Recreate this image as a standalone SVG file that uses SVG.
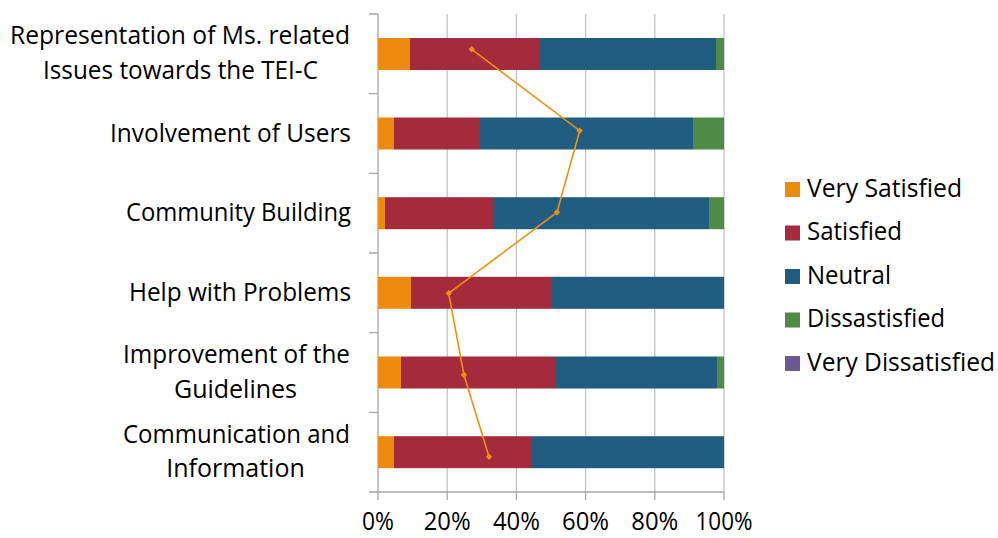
<svg xmlns="http://www.w3.org/2000/svg" width="998" height="538" viewBox="0 0 998 538">
<style>
text{font-family:"Open Sans","Liberation Sans",sans-serif;font-size:25px;fill:#000}
.lab{text-anchor:end}
.mid{text-anchor:middle}
.grid{stroke:#C3C3C3;stroke-width:1.3;fill:none}
.axis{stroke:#A6A6A6;stroke-width:1.3;fill:none}
.vs{fill:#EF8A11}
.s{fill:#A32B3B}
.n{fill:#215D81}
.d{fill:#4F8B48}
.vd{fill:#6C5894}
.trend{stroke:#F0900E;stroke-width:1.6;fill:none}
.mk{fill:#F0900E}
</style>
<defs>
<marker id="dia" viewBox="-4 -4 8 8" markerWidth="8" markerHeight="8" refX="0" refY="0" markerUnits="userSpaceOnUse">
<path d="M0 -3.2 L3.2 0 L0 3.2 L-3.2 0 Z" class="mk"/>
</marker>
</defs>
<rect width="998" height="538" fill="#fff"/>
<g id="gridlines">
<path class="grid" d="M447.2 14V492M516.4 14V492M585.6 14V492M654.8 14V492M724 14V492"/>
</g>
<g id="axes">
<path class="axis" d="M378 14V492M369 14H378M369 93.7H378M369 173.3H378M369 253H378M369 332.7H378M369 412.3H378M369 492H724M378 492V500M447.2 492V500M516.4 492V500M585.6 492V500M654.8 492V500M724 492V500"/>
<text class="mid" x="378" y="530" textLength="32" lengthAdjust="spacingAndGlyphs">0%</text>
<text class="mid" x="447.2" y="530" textLength="47" lengthAdjust="spacingAndGlyphs">20%</text>
<text class="mid" x="516.4" y="530" textLength="47" lengthAdjust="spacingAndGlyphs">40%</text>
<text class="mid" x="585.6" y="530" textLength="47" lengthAdjust="spacingAndGlyphs">60%</text>
<text class="mid" x="654.8" y="530" textLength="47" lengthAdjust="spacingAndGlyphs">80%</text>
<text class="mid" x="724" y="530" textLength="57" lengthAdjust="spacingAndGlyphs">100%</text>
</g>
<g id="cat1">
<text class="mid" x="180" y="44" textLength="340" lengthAdjust="spacingAndGlyphs">Representation of Ms. related</text>
<text class="mid" x="180.5" y="78.5" textLength="275" lengthAdjust="spacingAndGlyphs">Issues towards the TEI-C</text>
<rect class="vs" x="378" y="38" width="32" height="32"/>
<rect class="s" x="410" y="38" width="129" height="32"/>
<rect class="n" x="539" y="38" width="177" height="32"/>
<rect class="d" x="716" y="38" width="8" height="32"/>
</g>
<g id="cat2">
<text class="lab" x="351" y="141.5" textLength="241" lengthAdjust="spacingAndGlyphs">Involvement of Users</text>
<rect class="vs" x="378" y="117.5" width="16" height="32"/>
<rect class="s" x="394" y="117.5" width="86" height="32"/>
<rect class="n" x="480" y="117.5" width="213" height="32"/>
<rect class="d" x="693" y="117.5" width="31" height="32"/>
</g>
<g id="cat3">
<text class="lab" x="351" y="221" textLength="225" lengthAdjust="spacingAndGlyphs">Community Building</text>
<rect class="vs" x="378" y="197.2" width="7" height="32"/>
<rect class="s" x="385" y="197.2" width="108" height="32"/>
<rect class="n" x="493" y="197.2" width="216" height="32"/>
<rect class="d" x="709" y="197.2" width="15" height="32"/>
</g>
<g id="cat4">
<text class="lab" x="351" y="300.5" textLength="222" lengthAdjust="spacingAndGlyphs">Help with Problems</text>
<rect class="vs" x="378" y="276.8" width="33" height="32"/>
<rect class="s" x="411" y="276.8" width="140" height="32"/>
<rect class="n" x="551" y="276.8" width="173" height="32"/>
</g>
<g id="cat5">
<text class="mid" x="236.5" y="363" textLength="227" lengthAdjust="spacingAndGlyphs">Improvement of the</text>
<text class="mid" x="235.5" y="397.5">Guidelines</text>
<rect class="vs" x="378" y="356.5" width="23" height="32"/>
<rect class="s" x="401" y="356.5" width="154" height="32"/>
<rect class="n" x="555" y="356.5" width="162" height="32"/>
<rect class="d" x="717" y="356.5" width="7" height="32"/>
</g>
<g id="cat6">
<text class="mid" x="236.5" y="442.5" textLength="227" lengthAdjust="spacingAndGlyphs">Communication and</text>
<text class="mid" x="235.5" y="477">Information</text>
<rect class="vs" x="378" y="436.2" width="16" height="32"/>
<rect class="s" x="394" y="436.2" width="137" height="32"/>
<rect class="n" x="531" y="436.2" width="193" height="32"/>
</g>
<g id="connectors">
<polyline class="trend" points="471.7,49.3 579.7,130.7 557,212.3 448.7,293.3 464,375 489,456.7" marker-start="url(#dia)" marker-mid="url(#dia)" marker-end="url(#dia)"/>
</g>
<g id="legend">
<g id="leg-vs"><rect class="vs" x="785" y="182" width="15" height="15"/><text x="807" y="196.5" textLength="155" lengthAdjust="spacingAndGlyphs">Very Satisfied</text></g>
<g id="leg-s"><rect class="s" x="785" y="225.5" width="15" height="15"/><text x="807" y="240" textLength="95" lengthAdjust="spacingAndGlyphs">Satisfied</text></g>
<g id="leg-n"><rect class="n" x="785" y="269" width="15" height="15"/><text x="807" y="283.5" textLength="84" lengthAdjust="spacingAndGlyphs">Neutral</text></g>
<g id="leg-d"><rect class="d" x="785" y="312.5" width="15" height="15"/><text x="807" y="327" textLength="138" lengthAdjust="spacingAndGlyphs">Dissastisfied</text></g>
<g id="leg-vd"><rect class="vd" x="785" y="356" width="15" height="15"/><text x="807" y="370.5" textLength="188" lengthAdjust="spacingAndGlyphs">Very Dissatisfied</text></g>
</g>
</svg>
